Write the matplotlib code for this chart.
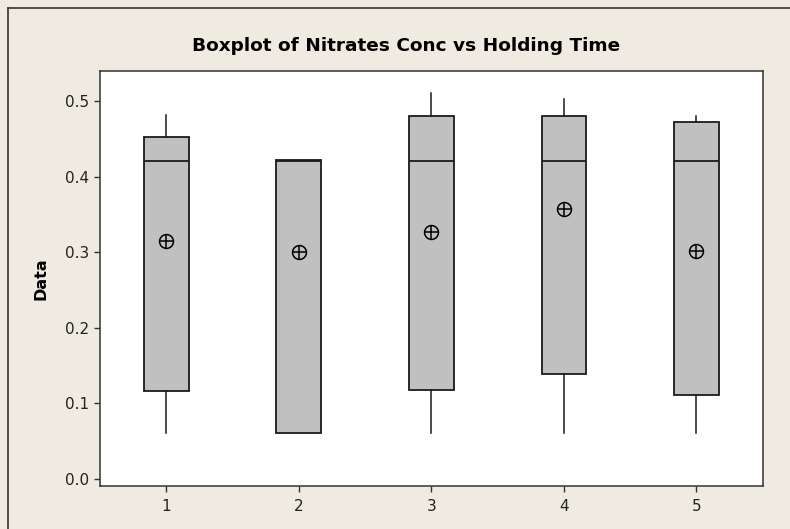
import matplotlib.pyplot as plt
from matplotlib.lines import Line2D

groups = ["1", "2", "3", "4", "5"]
whisker_low = [0.06, 0.06, 0.06, 0.06, 0.06]
q1 = [0.116, 0.06, 0.118, 0.139, 0.111]
medians = [0.42, 0.42, 0.42, 0.42, 0.42]
q3 = [0.452, 0.422, 0.48, 0.48, 0.472]
whisker_high = [0.482, 0.422, 0.51, 0.503, 0.48]
means = [0.315, 0.300, 0.327, 0.357, 0.302]

bg = "#EFEBE1"
fig = plt.figure(figsize=(7.9, 5.29), dpi=100, facecolor=bg)
ax = fig.add_axes([0.1266, 0.0819, 0.8389, 0.7839])
ax.set_facecolor("white")

stats = []
for i, g in enumerate(groups):
    stats.append(dict(label=g, whislo=whisker_low[i], q1=q1[i], med=medians[i],
                      q3=q3[i], whishi=whisker_high[i], mean=means[i], fliers=[]))

positions = list(range(1, len(groups) + 1))
ax.bxp(stats, positions=positions, widths=0.337, patch_artist=True,
       showcaps=False, showfliers=False,
       boxprops=dict(facecolor="#C0C0C0", edgecolor="#1a1a1a", linewidth=1.3),
       medianprops=dict(color="#1a1a1a", linewidth=1.3),
       whiskerprops=dict(color="#1a1a1a", linewidth=1.1))

# mean symbol: circle with cross
ax.plot(positions, means, linestyle="none", marker="o", markersize=10,
        markerfacecolor="none", markeredgecolor="black", markeredgewidth=1.1)
ax.plot(positions, means, linestyle="none", marker="+", markersize=10,
        markeredgecolor="black", markeredgewidth=1.1)

ax.set_xlim(0.5, 5.5)
ax.set_ylim(-0.0093, 0.5397)
ax.set_xticks(positions)
ax.set_xticklabels(groups)
ax.set_yticks([0.0, 0.1, 0.2, 0.3, 0.4, 0.5])
ax.set_yticklabels(["0.0", "0.1", "0.2", "0.3", "0.4", "0.5"])
ax.tick_params(direction="out", length=4.5, width=1, color="#333333",
               labelsize=11, labelcolor="#222222")
ax.tick_params(axis="y", pad=3)
ax.tick_params(axis="x", pad=5)
for s in ax.spines.values():
    s.set_color("#333333")
    s.set_linewidth(1.1)

ax.set_ylabel("Data", fontsize=11.5, fontweight="bold", labelpad=12)
fig.text(406 / 790, 1 - 46 / 529, "Boxplot of Nitrates Conc vs Holding Time",
         ha="center", va="center", fontsize=13.3, fontweight="bold")

# outer frame (left and top edges visible)
fig.add_artist(Line2D([8 / 790, 8 / 790], [0, 1 - 8 / 529], color="#333333",
                      linewidth=1.2, transform=fig.transFigure))
fig.add_artist(Line2D([8 / 790, 1], [1 - 8 / 529, 1 - 8 / 529], color="#333333",
                      linewidth=1.2, transform=fig.transFigure))

fig.savefig("out.png", dpi=100, facecolor=bg)
